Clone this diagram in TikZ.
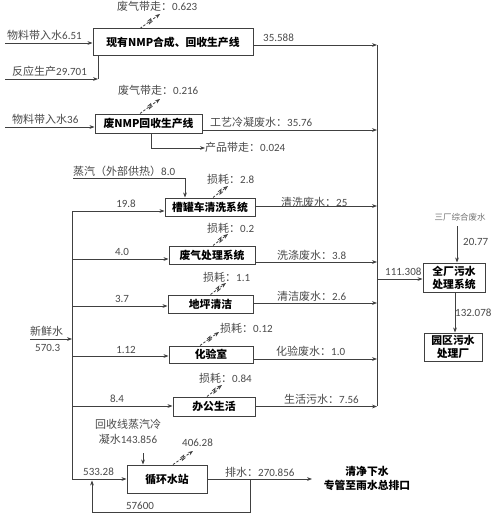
\documentclass[tikz,border=0pt]{standalone}
\usepackage{fontspec}
\setmainfont{Carlito}
\newfontfamily\cjk{Noto Sans CJK SC}
\usetikzlibrary{arrows.meta,calc}
\definecolor{ln}{HTML}{404040}
\definecolor{tx}{HTML}{4A4A4A}
\newcommand\zh[1]{{\cjk #1}}
\tikzset{
 box/.style={draw=ln, line width=1pt, font=\cjk\bfseries\fontsize{10.8}{13}\selectfont, text=black, inner sep=1pt, align=center},
 flow/.style={draw=ln, line width=0.8pt, -{Stealth[length=5pt,width=3.8pt]}},
 plainline/.style={draw=ln, line width=0.8pt},
 loss/.style={draw=ln, line width=0.8pt, dash pattern=on 2.5pt off 1.6pt, -{Stealth[length=5pt,width=3.8pt]}},
 lbl/.style={font=\fontsize{11}{12.5}\selectfont, text=tx, inner sep=0pt},
 small/.style={font=\cjk\fontsize{8.5}{10}\selectfont, text=black!55, inner sep=0pt},
 outlbl/.style={font=\cjk\bfseries\fontsize{10.8}{14}\selectfont, text=black, align=center, inner sep=0pt},
 zig/.pic={\draw[draw=ln, line width=0.7pt] (-2,-1.5) -- (2,-1.5) -- (-2,1.5) -- (2,1.5);}
}
\newcommand\lossline[2]{\draw[loss] (#1) -- (#2); \pic[rotate=40] at ($(#1)!0.5!(#2)$) {zig};}
\begin{document}
\begin{tikzpicture}[x=1pt,y=-1pt]
\useasboundingbox[fill=white] (0,0) rectangle (500,519);
% boxes
\node[box, minimum width=160pt, minimum height=27pt] (b1) at (173,42.5) {现有NMP合成、回收生产线};
\node[box, minimum width=107pt, minimum height=19pt] (b2) at (148.5,123.5) {废NMP回收生产线};
\node[box, minimum width=90pt, minimum height=18pt] (b3) at (210,207) {槽罐车清洗系统};
\node[box, minimum width=86pt, minimum height=18pt] (b4) at (212,255) {废气处理系统};
\node[box, minimum width=85pt, minimum height=18pt] (b5) at (210.5,304) {地坪清洁};
\node[box, minimum width=84pt, minimum height=17pt] (b6) at (211,354.5) {化验室};
\node[box, minimum width=82pt, minimum height=19pt] (b7) at (214,406.5) {办公生活};
\node[box, minimum width=80pt, minimum height=28pt] (b8) at (167,479) {循环水站};
\node[box, minimum width=62pt, minimum height=29pt] (b9) at (454,277.5) {全厂污水\\处理系统};
\node[box, minimum width=58pt, minimum height=28pt] (b10) at (453,347) {园区污水\\处理厂};

% coordinates
\coordinate (trTop) at (377,45);
\coordinate (trBot) at (377,406);
\coordinate (in1) at (5,43);
\coordinate (in2) at (5,79);
\coordinate (c2) at (98,79);
\coordinate (in3) at (5,127);
\coordinate (fwIn) at (30,339);
\coordinate (fwTop) at (72,211);
\coordinate (fwBot) at (72,479);
\coordinate (prod) at (205,148);
\coordinate (drain) at (312,479);
\coordinate (ret) at (92,479);

% trunk
\draw[plainline] (trTop) -- (trBot);

% top lines
\node[lbl, anchor=west] (t1) at (7,35) {\zh{物料带入水}6.51};
\draw[flow] (in1) -- (in1 -| b1.west);
\node[lbl, anchor=west] (t2) at (12,71) {\zh{反应生产}29.701};
\draw[flow] (in2) -- (c2);
\draw[plainline] (c2) -- (c2 |- b1.south);
\draw[flow] ([yshift=-2.5pt]b1.east) -- ([yshift=-2.5pt]b1.east -| trTop);
\node[lbl, anchor=west] (t3) at (263,38) {35.588};
\node[lbl, anchor=west] (t4) at (117,6) {\zh{废气带走：}0.623};
\coordinate (e1) at (160,14);
\lossline{[xshift=-33pt]b1.north}{e1}

\node[lbl, anchor=west] (t5) at (12,119) {\zh{物料带入水}36};
\draw[flow] (in3) -- (in3 -| b2.west);
\draw[flow] ([yshift=-6.5pt]b2.east) -- ([yshift=-6.5pt]b2.east -| trTop);
\node[lbl, anchor=west] (t6) at (210,122) {\zh{工艺冷凝废水：}35.76};
\draw[flow] ([xshift=2.5pt]b2.south) |- (prod);
\node[lbl, anchor=west] (t7) at (205,147) {\zh{产品带走：}0.024};
\node[lbl, anchor=west] (t8) at (118,90) {\zh{废气带走：}0.216};
\coordinate (e2) at (160,99);
\lossline{[xshift=-8.5pt]b2.north}{e2}

% steam
\node[lbl, anchor=south west] (st) at (73,176.5) {\zh{蒸汽（外部供热）}8.0};
\draw[flow] (73,178) -| ([xshift=-25pt]b3.north);

% fresh water
\node[lbl, anchor=south west] (fw) at (30,337) {\zh{新鲜水}};
\node[lbl, anchor=west] (fwn) at (35,348) {570.3};
\draw[flow] (fwIn) -- (fwIn -| fwTop);
\draw[plainline] (fwTop) -- (fwBot);

% branch b3
\draw[flow] (fwTop) -- (fwTop -| b3.west);
\node[lbl] (n1) at (126,204) {19.8};
\draw[flow] ([yshift=1pt]b3.east) -- ([yshift=1pt]b3.east -| trTop);
\node[lbl, anchor=west] (w1) at (281,202) {\zh{清洗废水：}25};
\node[lbl, anchor=west] (s1) at (207,179) {\zh{损耗：}2.8};
\coordinate (e3) at (228,186);
\lossline{[xshift=3pt]b3.north}{e3}

% branch b4
\draw[flow] (72,259) -- (72,259 -| b4.west);
\node[lbl] (n2) at (122,252) {4.0};
\draw[flow] ([yshift=-7pt]b4.east) -- ([yshift=-7pt]b4.east -| trTop);
\node[lbl, anchor=west] (w2) at (277,255) {\zh{洗涤废水：}3.8};
\node[lbl, anchor=west] (s2) at (207,228) {\zh{损耗：}0.2};
\coordinate (e4) at (228,234);
\lossline{[xshift=1pt]b4.north}{e4}

% branch b5
\draw[flow] (72,306) -- (72,306 -| b5.west);
\node[lbl] (n3) at (122,299) {3.7};
\draw[flow] ([yshift=1pt]b5.east) -- ([yshift=1pt]b5.east -| trTop);
\node[lbl, anchor=west] (w3) at (277,296) {\zh{清洁废水：}2.6};
\node[lbl, anchor=west] (s3) at (203,277) {\zh{损耗：}1.1};
\coordinate (e5) at (226,283);
\lossline{[xshift=0pt]b5.north}{e5}

% branch b6
\draw[flow] (72,356) -- (72,356 -| b6.west);
\node[lbl] (n4) at (126,350) {1.12};
\draw[flow] ([yshift=-4.5pt]b6.east) -- ([yshift=-4.5pt]b6.east -| trTop);
\node[lbl, anchor=west] (w4) at (276,351) {\zh{化验废水：}1.0};
\node[lbl, anchor=west] (s4) at (220,328) {\zh{损耗：}0.12};
\coordinate (e6) at (219,332);
\lossline{[xshift=-11pt]b6.north}{e6}

% branch b7
\draw[flow] (72,406) -- (72,406 -| b7.west);
\node[lbl] (n5) at (117,399) {8.4};
\draw[flow] (b7.east) -- (b7.east -| trTop);
\node[lbl, anchor=west] (w5) at (284,399) {\zh{生活污水：}7.56};
\node[lbl, anchor=west] (s5) at (199,378) {\zh{损耗：}0.84};
\coordinate (e7) at (222,385);
\lossline{[xshift=-7pt]b7.north}{e7}

% cooling water station
\node[lbl, align=center, font=\cjk\fontsize{11}{15}\selectfont] (cond) at (128,431.5) {回收线蒸汽冷\\凝水{\fontspec{Carlito}143.856}};
\draw[flow] (143,453) -- (143,453 |- b8.north);
\draw[flow] (fwBot) -- (b8.west);
\node[lbl, anchor=west] (n6) at (83,472) {533.28};
\node[lbl, anchor=west] (s6) at (182,443) {406.28};
\coordinate (e8) at (193,451);
\lossline{[xshift=6pt]b8.north}{e8}
\draw[flow] (b8.east) -- (drain);
\node[lbl, anchor=west] (w6) at (225,472) {\zh{排水：}270.856};
\node[outlbl] (out) at (367,478.5) {清净下水\\专管至雨水总排口};
\draw[flow] (250,479) -- (250,512) -| ([yshift=-1.5pt]ret);
\node[lbl] (n7) at (140,506) {57600};

% right side
\draw[flow] (377,279) -- (377,279 -| b9.west);
\node[lbl, anchor=west] (n8) at (385,272) {111.308};
\node[small] (san) at (460,217) {三厂综合废水};
\draw[flow] (457,226) -- (457,226 |- b9.north);
\node[lbl, anchor=west] (n9) at (463,242) {20.77};
\draw[flow] ([xshift=1pt]b9.south) -- ([xshift=1pt]b9.south |- b10.north);
\node[lbl, anchor=west] (n10) at (455,313) {132.078};
\end{tikzpicture}
\end{document}
